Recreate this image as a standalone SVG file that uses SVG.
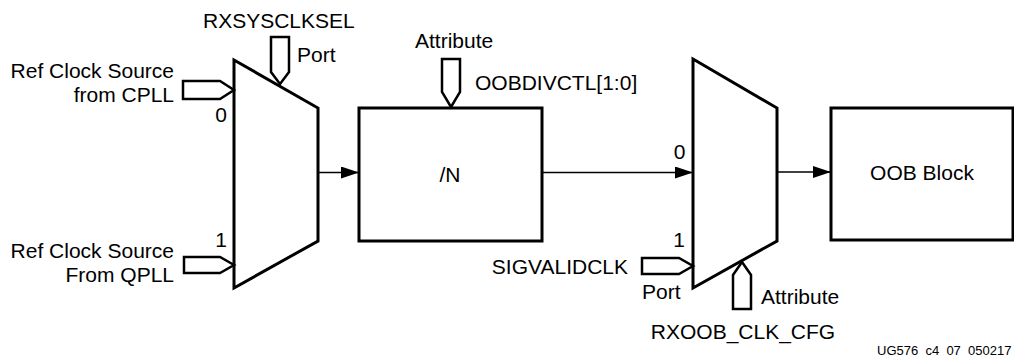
<svg xmlns="http://www.w3.org/2000/svg" width="1014" height="357" viewBox="0 0 1014 357">
<style>
text{font-family:"Liberation Sans",Arial,sans-serif;font-size:21px;fill:#000}
.blk{fill:#fff;stroke:#000;stroke-width:3;stroke-linejoin:miter}
.pin{fill:#fff;stroke:#000;stroke-width:2.5;stroke-linejoin:miter}
.wire{stroke:#000;stroke-width:1.4;fill:none}
.mid{text-anchor:middle}
.end{text-anchor:end}
.small{font-size:13px}
</style>
<defs>
<marker id="ah" viewBox="0 0 18 12" refX="18" refY="6" markerWidth="18" markerHeight="12" markerUnits="userSpaceOnUse" orient="auto">
<path d="M0,0 L18,6 L0,12 Z" fill="#000"/>
</marker>
</defs>
<g id="connectors">
<line class="wire" x1="318" y1="172.5" x2="359" y2="172.5" marker-end="url(#ah)"/>
<line class="wire" x1="542" y1="172.5" x2="693" y2="172.5" marker-end="url(#ah)"/>
<line class="wire" x1="777" y1="172" x2="831" y2="172" marker-end="url(#ah)"/>
</g>
<g id="mux1">
<path class="blk" d="M234,60 L318,108 L318,241 L234,288 Z"/>
<text class="mid" x="221" y="122">0</text>
<text class="mid" x="221" y="247">1</text>
</g>
<g id="rxsysclksel">
<path class="pin" d="M271,37 L289,37 L289,72 L280,84 L271,72 Z"/>
<text x="203" y="28">RXSYSCLKSEL</text>
<text x="297" y="62">Port</text>
</g>
<g id="cpll-in">
<path class="pin" d="M183,81 L220,81 L234,90 L220,99 L183,99 Z"/>
<text class="end" x="174" y="78">Ref Clock Source</text>
<text class="end" x="174" y="101.5">from CPLL</text>
</g>
<g id="qpll-in">
<path class="pin" d="M184,257 L220,257 L234,265 L220,273 L184,273 Z"/>
<text class="end" x="174" y="258">Ref Clock Source</text>
<text class="end" x="174" y="281.5">From QPLL</text>
</g>
<g id="divider">
<rect class="blk" x="359" y="108" width="183" height="133"/>
<text class="mid" x="450" y="182">/N</text>
</g>
<g id="oobdivctl">
<path class="pin" d="M442,59 L460,59 L460,92 L451,107 L442,92 Z"/>
<text x="415" y="48">Attribute</text>
<text x="475" y="90">OOBDIVCTL[1:0]</text>
</g>
<g id="mux2">
<path class="blk" d="M693,59 L777,108 L777,241 L693,288 Z"/>
<text class="mid" x="679.5" y="158.5">0</text>
<text class="mid" x="679" y="247">1</text>
</g>
<g id="sigvalidclk">
<path class="pin" d="M642,258 L679,258 L693,266 L679,274 L642,274 Z"/>
<text class="end" x="628" y="273.5">SIGVALIDCLK</text>
<text x="642" y="298.5">Port</text>
</g>
<g id="rxoob-clk-cfg">
<path class="pin" d="M733,309 L751,309 L751,275 L742,262 L733,275 Z"/>
<text x="761" y="303.5">Attribute</text>
<text class="mid" x="743" y="338.5">RXOOB_CLK_CFG</text>
</g>
<g id="oob-block">
<rect class="blk" x="831" y="108" width="182" height="132"/>
<text class="mid" x="922" y="180">OOB Block</text>
</g>
<text class="small" x="877" y="355">UG576_c4_07_050217</text>
</svg>
